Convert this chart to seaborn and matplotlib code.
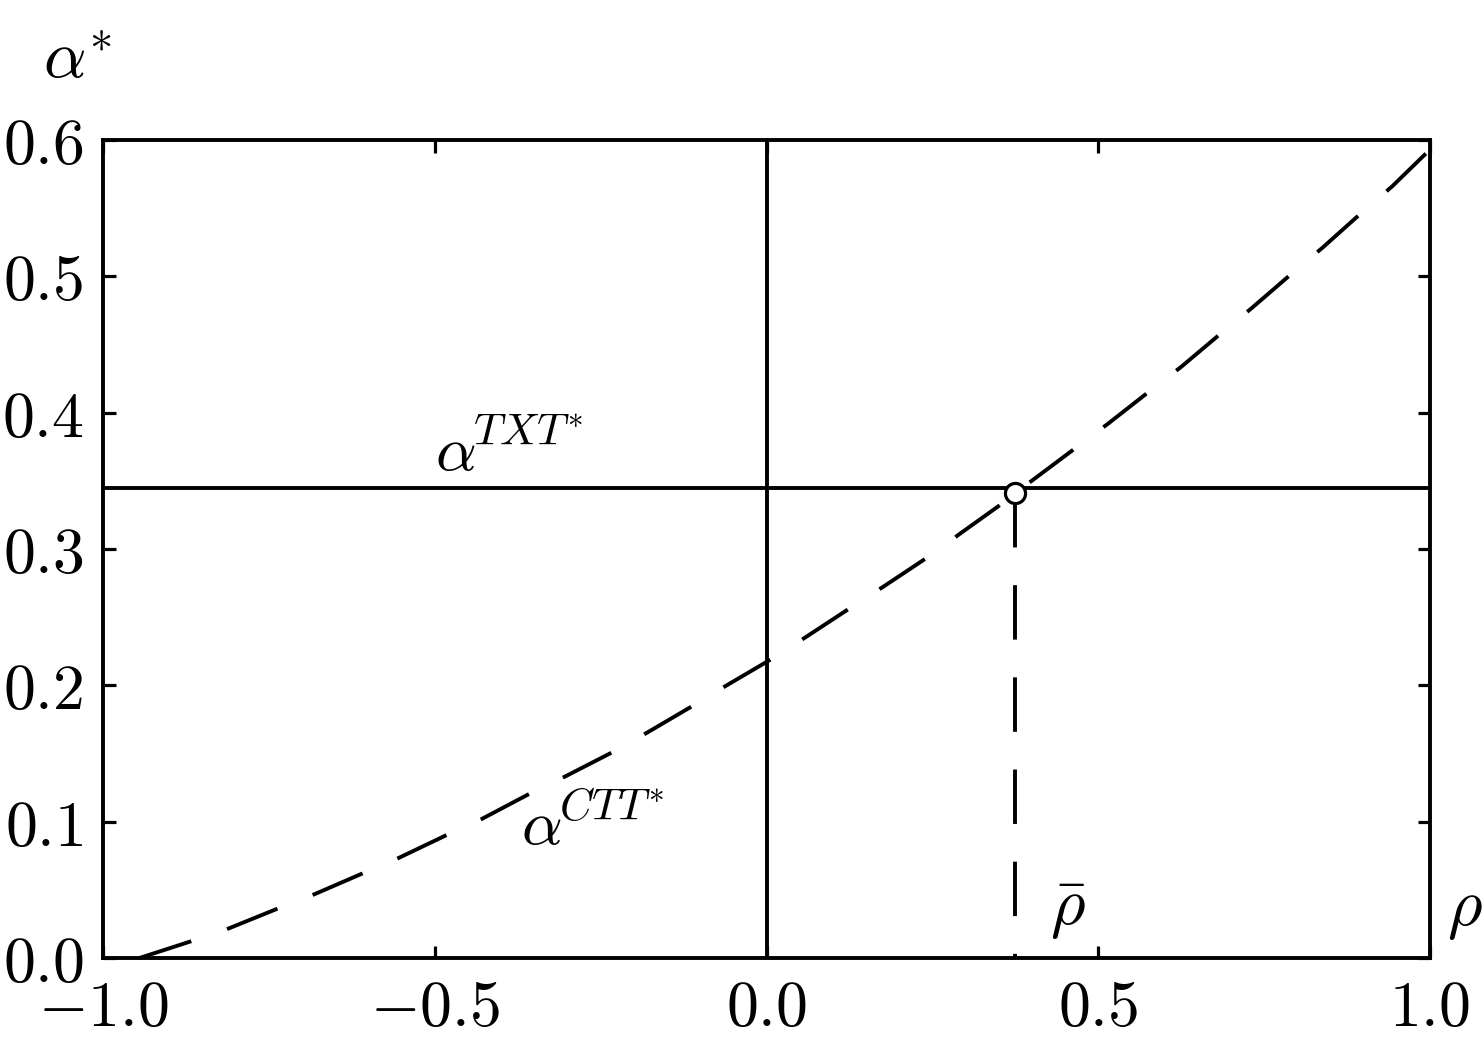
import matplotlib
matplotlib.use("Agg")
import matplotlib.pyplot as plt
import seaborn as sns
import pandas as pd

# ---- data ----
rho = [-0.945, -0.869, -0.814, -0.738, -0.685, -0.609, -0.556, -0.483, -0.429,
       -0.359, -0.304, -0.232, -0.181, -0.111, -0.060, 0.010, 0.058, 0.127,
       0.175, 0.243, 0.291, 0.357, 0.375, 0.515, 0.578, 0.626, 0.687, 0.732,
       0.794, 0.838, 0.900, 0.943, 1.000]
alpha_ctt = [0.000, 0.012, 0.021, 0.036, 0.046, 0.062, 0.073, 0.090, 0.102,
             0.120, 0.133, 0.151, 0.165, 0.185, 0.200, 0.220, 0.235, 0.257,
             0.272, 0.294, 0.311, 0.334, 0.341, 0.392, 0.416, 0.434, 0.459, 0.477,
             0.503, 0.521, 0.548, 0.566, 0.593]
alpha_txt = 0.345
rho_bar = 0.375
alpha_bar = 0.341

xticks = [-1.0, -0.5, 0.0, 0.5, 1.0]
xticklabels = [r"$-1.0$", r"$-0.5$", r"$0.0$", r"$0.5$", r"$1.0$"]
yticks = [0.0, 0.1, 0.2, 0.3, 0.4, 0.5, 0.6]
yticklabels = [r"$0.0$", r"$0.1$", r"$0.2$", r"$0.3$", r"$0.4$", r"$0.5$", r"$0.6$"]

df = pd.DataFrame({"rho": rho, "alpha": alpha_ctt})

sns.set_theme(style="ticks")
plt.rcParams["mathtext.fontset"] = "cm"
plt.rcParams["font.family"] = ["DejaVu Serif"]
plt.rcParams["text.color"] = "black"
plt.rcParams["axes.edgecolor"] = "black"
plt.rcParams["xtick.color"] = "black"
plt.rcParams["ytick.color"] = "black"

fig = plt.figure(figsize=(14.82, 10.43), dpi=100)
ax = fig.add_axes([103 / 1482, 1 - 958 / 1043, (1430 - 103) / 1482, (958 - 140) / 1043])

LW = 2.8
sns.lineplot(data=df, x="rho", y="alpha", ax=ax, color="black",
             linewidth=LW, sort=False)
ln = ax.lines[-1]
ln.set_dashes((14, 9.7))
ln.set_dash_capstyle("butt")

ax.axhline(alpha_txt, color="black", lw=LW)
ax.axvline(0.0, color="black", lw=LW)
vl, = ax.plot([rho_bar, rho_bar], [alpha_bar, 0.0], color="black", lw=LW)
vl.set_dashes((14, 9.7))
vl.set_dash_capstyle("butt")

sns.scatterplot(x=[rho_bar], y=[alpha_bar], ax=ax, s=14.5 ** 2, color="white",
                edgecolor="black", linewidth=2.3, zorder=5)

ax.set_xlim(-1.0, 1.0)
ax.set_ylim(0.0, 0.6)
ax.set_xticks(xticks)
ax.set_xticklabels(xticklabels)
ax.set_yticks(yticks)
ax.set_yticklabels(yticklabels)
ax.set_xlabel("")
ax.set_ylabel("")

for sp in ax.spines.values():
    sp.set_linewidth(LW)
    sp.set_color("black")
    sp.set_visible(True)
ax.tick_params(axis="both", which="major", direction="in", length=9, width=2.3,
               top=True, right=True, labelsize=46, pad=14, colors="black")

FS = 46
ax.text(-0.50, 0.357, r"$\alpha^{\!TXT^{*}}$", fontsize=FS, ha="left", va="baseline")
ax.text(-0.37, 0.083, r"$\alpha^{\!CTT^{*}}$", fontsize=FS, ha="left", va="baseline")
ax.text(0.427, 0.024, r"$\bar{\rho}$", fontsize=FS + 2, ha="left", va="baseline")
ax.text(1.026, 0.024, r"$\rho$", fontsize=FS + 2, ha="left", va="baseline", clip_on=False)
ax.text(-1.090, 0.6456, r"$\alpha^{*}$", fontsize=FS + 2, ha="left", va="baseline", clip_on=False)

fig.savefig("out.png", dpi=100)
